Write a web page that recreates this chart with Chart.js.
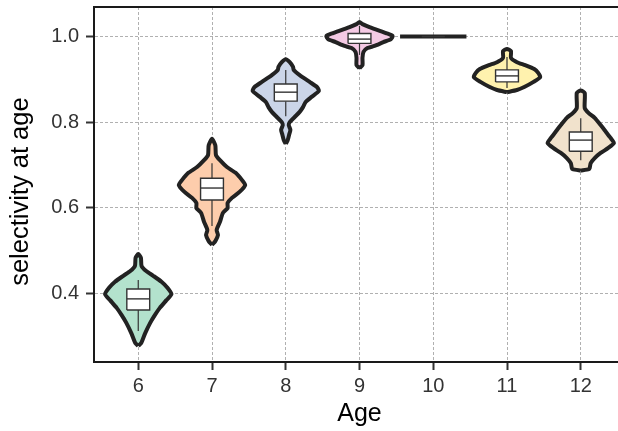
<!DOCTYPE html>
<html><head><meta charset="utf-8">
<script src="https://cdn.jsdelivr.net/npm/chart.js@4/dist/chart.umd.min.js"></script>
<style>
html,body{margin:0;padding:0;background:#fff;overflow:hidden;}
#wrap{width:625px;height:431px;}
</style></head><body>
<div id="wrap"><canvas id="c" width="625" height="431"></canvas></div>
<script>
// ---- data ----
const ages = [6, 7, 8, 9, 10, 11, 12];
const yTicks = [0.4, 0.6, 0.8, 1.0];

// violin outlines: selectivity levels (ascending) and relative half-width (density)
const v6Y  = [0.277, 0.284, 0.307, 0.331, 0.349, 0.366, 0.384, 0.398, 0.413, 0.427, 0.441, 0.452, 0.464, 0.483, 0.492];
const v6W  = [0,     0.09,  0.21,  0.36,  0.50,  0.65,  0.85,  1.00,  0.88,  0.70,  0.45,  0.24,  0.10,  0.08,  0];
const v7Y  = [0.513, 0.522, 0.536, 0.548, 0.567, 0.588, 0.599, 0.611, 0.623, 0.637, 0.653, 0.665, 0.681, 0.695, 0.711, 0.723, 0.746, 0.761];
const v7W  = [0,     0.10,  0.18,  0.14,  0.24,  0.33,  0.47,  0.47,  0.60,  0.83,  1.00,  0.90,  0.72,  0.45,  0.24,  0.12,  0.10,  0];
const v8Y  = [0.749, 0.758, 0.770, 0.782, 0.793, 0.800, 0.812, 0.824, 0.835, 0.847, 0.859, 0.873, 0.882, 0.894, 0.910, 0.922, 0.929, 0.940, 0.947];
const v8W  = [0,     0.06,  0.10,  0.14,  0.09,  0.12,  0.27,  0.42,  0.52,  0.60,  0.78,  1.00,  0.94,  0.72,  0.42,  0.24,  0.22,  0.12,  0];
const v9Y  = [0.926, 0.933, 0.950, 0.964, 0.973, 0.978, 0.987, 0.994, 1.001, 1.008, 1.015, 1.022, 1.029, 1.034];
const v9W  = [0,     0.09,  0.09,  0.12,  0.24,  0.45,  0.72,  0.95,  1.00,  0.80,  0.55,  0.30,  0.09,  0];
const v10Y = [1.0];
const v10W = [1.0];
const v11Y = [0.870, 0.875, 0.882, 0.894, 0.905, 0.915, 0.924, 0.933, 0.940, 0.950, 0.966, 0.971];
const v11W = [0,     0.30,  0.52,  0.80,  1.00,  0.94,  0.82,  0.55,  0.30,  0.12,  0.12,  0];
const v12Y = [0.687, 0.690, 0.693, 0.704, 0.716, 0.728, 0.739, 0.751, 0.763, 0.777, 0.793, 0.810, 0.821, 0.833, 0.868, 0.874];
const v12W = [0,     0.25,  0.27,  0.30,  0.42,  0.60,  0.82,  1.00,  0.90,  0.76,  0.60,  0.42,  0.24,  0.12,  0.12,  0];

// boxplot statistics per age
const boxQ1       = [0.361, 0.618, 0.849, 0.984, 1.0, 0.894, 0.732];
const boxMedian   = [0.387, 0.646, 0.870, 0.994, 1.0, 0.908, 0.758];
const boxQ3       = [0.410, 0.669, 0.889, 1.007, 1.0, 0.922, 0.777];
const whiskerLow  = [0.312, 0.557, 0.814, 0.957, 1.0, 0.880, 0.711];
const whiskerHigh = [0.431, 0.704, 0.922, 1.025, 1.0, 0.952, 0.809];

// ---- styles ----
const violinYs = [v6Y, v7Y, v8Y, v9Y, v10Y, v11Y, v12Y];
const violinWs = [v6W, v7W, v8W, v9W, v10W, v11W, v12W];
const fills = ['#B3E2CD', '#FDCDAC', '#CBD5E8', '#F4CAE4', '#E6F5C9', '#FFF2AE', '#F1E2CC'];
const HALF = 0.45, BOXHALF = 0.155;
const FONT = "'Liberation Sans', Arial, sans-serif";
const outline = '#222222', thin = '#333333';

const datasets = [];
ages.forEach((age, k) => {
  const ys = violinYs[k], ws = violinWs[k];
  const pts = [];
  for (let i = 0; i < ys.length; i++) pts.push({x: age + ws[i] * HALF, y: ys[i]});
  for (let i = ys.length - 1; i >= 0; i--) pts.push({x: age - ws[i] * HALF, y: ys[i]});
  const poly = pts.filter((p, i) => i === 0 || p.x !== pts[i - 1].x || p.y !== pts[i - 1].y);
  datasets.push({data: poly, showLine: true, fill: 'shape', backgroundColor: fills[k],
    borderColor: outline, borderWidth: 4, tension: 0.2, borderJoinStyle: 'round',
    pointRadius: 0, order: 4});
  datasets.push({data: [{x: age, y: whiskerLow[k]}, {x: age, y: boxQ1[k]}], showLine: true,
    borderColor: thin, borderWidth: 1.2, pointRadius: 0, order: 3});
  datasets.push({data: [{x: age, y: boxQ3[k]}, {x: age, y: whiskerHigh[k]}], showLine: true,
    borderColor: thin, borderWidth: 1.2, pointRadius: 0, order: 3});
  datasets.push({data: [{x: age - BOXHALF, y: boxQ1[k]}, {x: age + BOXHALF, y: boxQ1[k]},
      {x: age + BOXHALF, y: boxQ3[k]}, {x: age - BOXHALF, y: boxQ3[k]}, {x: age - BOXHALF, y: boxQ1[k]}],
    showLine: true, fill: 'shape', backgroundColor: '#ffffff', borderColor: thin, borderWidth: 1.4,
    borderJoinStyle: 'miter', pointRadius: 0, order: 2});
  datasets.push({data: [{x: age - BOXHALF, y: boxMedian[k]}, {x: age + BOXHALF, y: boxMedian[k]}],
    showLine: true, borderColor: thin, borderWidth: 1.4, pointRadius: 0, order: 1});
});

const gridOpts = {color: '#b0b0b0', lineWidth: 1, drawTicks: true, tickLength: 8, tickColor: '#333333', tickWidth: 2};
const borderOpts = {display: true, color: '#1a1a1a', width: 2, dash: [3, 2]};

new Chart(document.getElementById('c'), {
  type: 'scatter',
  data: {datasets},
  options: {
    responsive: false, animation: false, devicePixelRatio: 1,
    layout: {padding: 0},
    plugins: {legend: {display: false}, tooltip: {enabled: false}},
    scales: {
      x: {type: 'linear', position: 'bottom', min: 5.4, max: 12.6,
        afterBuildTicks: s => { s.ticks = ages.map(v => ({value: v})); },
        afterFit: s => { s.height = 69; s.paddingLeft = 0; s.paddingRight = 0; },
        grid: gridOpts, border: borderOpts,
        ticks: {color: '#333333', font: {family: FONT, size: 20}, padding: 4, maxRotation: 0, autoSkip: false,
          callback: v => String(v)},
        title: {display: true, text: 'Age', color: '#000000', font: {family: FONT, size: 25}, padding: {top: 0, bottom: 2}}
      },
      x2: {type: 'linear', position: 'top', min: 5.4, max: 12.6,
        afterFit: s => { s.height = 7; s.paddingLeft = 0; s.paddingRight = 0; },
        ticks: {display: false},
        grid: {display: true, drawOnChartArea: false, drawTicks: false, color: 'rgba(0,0,0,0)'},
        border: {display: true, color: '#1a1a1a', width: 2}
      },
      y: {type: 'linear', position: 'left', min: 0.2395, max: 1.069,
        afterBuildTicks: s => { s.ticks = yTicks.map(v => ({value: v})); },
        afterFit: s => { s.width = 94; s.paddingTop = 0; s.paddingBottom = 0; },
        grid: gridOpts, border: borderOpts,
        ticks: {color: '#333333', font: {family: FONT, size: 20}, padding: 7, callback: v => v.toFixed(1)},
        title: {display: true, text: 'selectivity at age  ', color: '#000000', font: {family: FONT, size: 25.5}, padding: {top: 6, bottom: 0}}
      }
    }
  }
});
</script>
</body></html>
